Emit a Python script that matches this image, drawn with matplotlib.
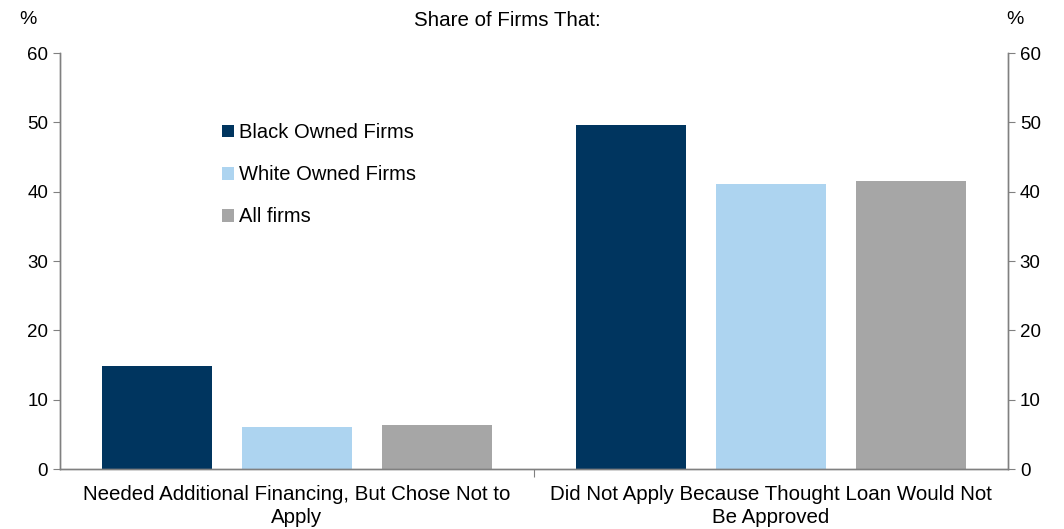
import matplotlib
matplotlib.use("Agg")
import matplotlib.pyplot as plt
import numpy as np

categories = ["Needed Additional Financing, But Chose Not to\nApply",
              "Did Not Apply Because Thought Loan Would Not\nBe Approved"]
series_names = ["Black Owned Firms", "White Owned Firms", "All firms"]
black_owned = [14.8, 49.6]
white_owned = [6.1, 41.1]
all_firms = [6.3, 41.5]
yticks = [0, 10, 20, 30, 40, 50, 60]
colors = ["#00355F", "#ADD4F0", "#A6A6A6"]

plt.rcParams['font.family'] = ['Liberation Sans', 'DejaVu Sans']

fig = plt.figure(figsize=(10.64, 5.29), dpi=100)
ax = fig.add_axes([60/1064, 60/529, 948/1064, 416/529])

x = np.arange(len(categories))
w = 0.232
gap = 0.063
offsets = [-(w + gap), 0, (w + gap)]
handles = []
for vals, off, c, name in zip([black_owned, white_owned, all_firms], offsets, colors, series_names):
    b = ax.bar(x + off, vals, width=w, color=c, label=name)
    handles.append(b)

ax.set_xlim(-0.5, 1.5)
ax.set_ylim(0, 60)
ax.set_yticks(yticks)
ax.tick_params(axis='y', labelsize=13.5, length=5, color='#808080', direction='out')
ax2 = ax.twinx()
ax2.set_ylim(0, 60)
ax2.set_yticks(yticks)
ax2.tick_params(axis='y', labelsize=13.5, length=5, color='#808080', direction='out')

ax.set_xticks([0.5])
ax.set_xticklabels([""])
ax.tick_params(axis='x', length=6, color='#808080')
for i, c in enumerate(categories):
    ax.text(i, -2.3, c, ha='center', va='top', fontsize=14.8, linespacing=1.25)

for a in (ax, ax2):
    a.spines['top'].set_visible(False)
    for s in ('left', 'right', 'bottom'):
        a.spines[s].set_color('#808080')
        a.spines[s].set_linewidth(1.0)

fig.text(28/1064, 1 - 20/529, "%", ha='center', va='center', fontsize=14)
fig.text(1015/1064, 1 - 20/529, "%", ha='center', va='center', fontsize=14)
fig.text(507/1064, 1 - 20/529, "Share of Firms That:", ha='center', va='center', fontsize=14.8)

leg = ax.legend(handles=handles, loc='upper left', bbox_to_anchor=(154/948, (469-115)/416),
                frameon=False, handlelength=0.6, handleheight=0.6,
                handletextpad=0.25, labelspacing=1.15, borderaxespad=0,
                prop={'family': ['Liberation Sans', 'DejaVu Sans'], 'size': 14.5})

fig.savefig("out.png", dpi=100)
